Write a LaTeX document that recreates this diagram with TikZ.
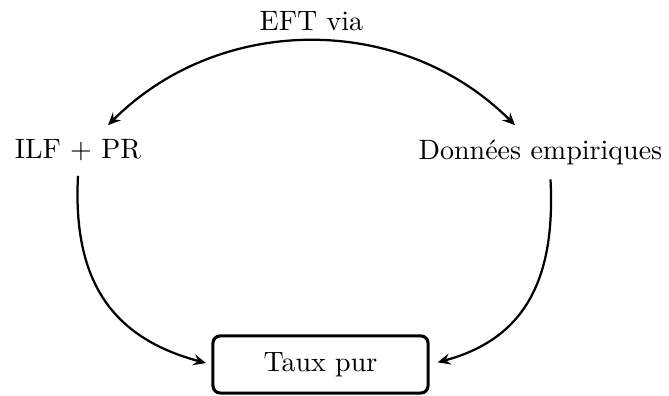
\documentclass[tikz,border=0pt]{standalone}
\usepackage{fontspec}
\usetikzlibrary{arrows.meta}
\begin{document}
\begin{tikzpicture}[x=0.357pt,y=0.357pt,
  lbl/.style={inner sep=5pt, font=\fontsize{10}{12}\selectfont},
  tip/.style={Stealth[length=4.5pt,width=4pt,inset=1.6pt]},
  conn/.style={line width=0.8pt, -{Stealth[length=4.5pt,width=4pt,inset=1.6pt]}},
  purbox/.style={draw, line width=1.1pt, rounded corners=2.6pt, minimum width=76.8pt,
    minimum height=20.4pt, inner sep=0pt, font=\fontsize{10}{12}\selectfont}]
\useasboundingbox (0,0) rectangle (669,396);
\node[lbl] (eft) at (311.5,375) {EFT via};
\node[lbl] (ilf) at (78,245.5) {ILF $+$ PR};
\node[lbl] (don) at (540.5,243.7) {Données empiriques};
\node[purbox] (taux) at (320.5,31.5) {Taux pur};
\draw[line width=0.8pt, {Stealth[length=4.5pt,width=4pt,inset=1.6pt]}-{Stealth[length=4.5pt,width=4pt,inset=1.6pt]}]
  ([shift={(30,0)}]ilf.north) to[bend left=45] ([shift={(-25.5,0)}]don.north);
\draw[conn, shorten >=2pt] (ilf.south) to[out=-93, in=165, looseness=1.15] (taux.west);
\draw[conn, shorten >=3pt] ([shift={(10,0)}]don.south) to[out=-87, in=15, looseness=1.15] (taux.east);
\end{tikzpicture}
\end{document}
